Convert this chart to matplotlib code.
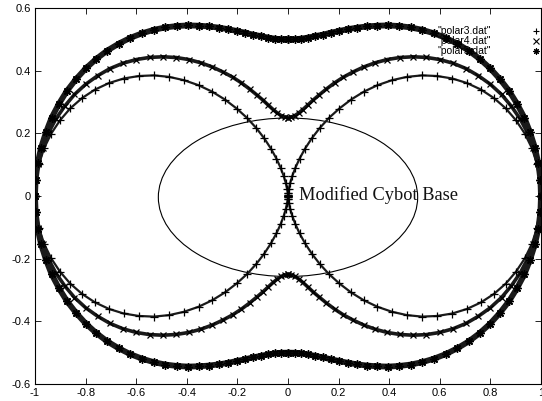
import numpy as np
import matplotlib
matplotlib.use("Agg")
import matplotlib.pyplot as plt
from matplotlib.patches import Ellipse
from matplotlib.ticker import FuncFormatter, MultipleLocator

# Polar radius every 3 degrees over the first quadrant;
# each trace is symmetric about both axes, so the other quadrants mirror it.
ANGLE_DEG = [0, 3, 6, 9, 12, 15, 18, 21, 24, 27, 30, 33, 36, 39, 42, 45,
             48, 51, 54, 57, 60, 63, 66, 69, 72, 75, 78, 81, 84, 87, 90]
R_POLAR3 = [1.00, 0.997, 0.989, 0.976, 0.957, 0.933, 0.905, 0.872, 0.835, 0.794,
            0.750, 0.703, 0.655, 0.604, 0.552, 0.500, 0.448, 0.396, 0.345, 0.297,
            0.250, 0.206, 0.165, 0.128, 0.095, 0.067, 0.043, 0.024, 0.011, 0.003, 0.0]
R_POLAR4 = [1.00, 0.998, 0.992, 0.982, 0.968, 0.950, 0.928, 0.904, 0.876, 0.845,
            0.813, 0.778, 0.741, 0.703, 0.664, 0.625, 0.586, 0.547, 0.509, 0.472,
            0.438, 0.405, 0.374, 0.346, 0.322, 0.300, 0.282, 0.268, 0.258, 0.252, 0.250]
R_POLAR5 = [1.00, 0.999, 0.995, 0.988, 0.978, 0.967, 0.952, 0.936, 0.917, 0.897,
            0.875, 0.852, 0.827, 0.802, 0.776, 0.750, 0.724, 0.698, 0.673, 0.648,
            0.625, 0.603, 0.583, 0.564, 0.548, 0.533, 0.522, 0.512, 0.505, 0.501, 0.500]
SERIES_LABELS = ['"polar3.dat"', '"polar4.dat"', '"polar5.dat"']

# robot base outline
BASE_CENTER = (0.0, -0.004)
BASE_WIDTH = 1.025
BASE_HEIGHT = 0.506
BASE_LABEL = "Modified Cybot Base"
BASE_LABEL_POS = (0.045, 0.002)

plt.rcParams["axes.unicode_minus"] = False
plt.rcParams["font.family"] = ["Liberation Sans", "DejaVu Sans"]


def full_curve(radii):
    th = np.radians(ANGLE_DEG)
    r = np.asarray(radii)
    t = np.concatenate([th, np.pi - th[::-1], np.pi + th, 2 * np.pi - th[::-1]])
    rr = np.concatenate([r, r[::-1], r, r[::-1]])
    return rr * np.cos(t), rr * np.sin(t)


def gnuplot_fmt(v, pos):
    return "%g" % (round(v, 6) + 0.0)


fig = plt.figure(figsize=(5.42, 4.01), dpi=100)
ax = fig.add_axes([35 / 542, 17 / 401, 506 / 542, 376 / 401])

styles = [
    dict(marker="+", ms=5.5, mew=0.9, lw=1.6),
    dict(marker="x", ms=4.5, mew=0.9, lw=2.6),
    dict(marker=(8, 2, 0), ms=6, mew=1.0, lw=4.2),
]
for radii, label, st in zip([R_POLAR3, R_POLAR4, R_POLAR5], SERIES_LABELS, styles):
    x, y = full_curve(radii)
    ax.plot(x, y, color="#1a1a1a", lw=st["lw"], solid_joinstyle="round")
    ax.plot(x, y, linestyle="none", marker=st["marker"], ms=st["ms"],
            mew=st["mew"], color="black")
    ax.plot([], [], linestyle="none", marker=st["marker"], ms=4.5, mew=0.8,
            color="black", label=label)

ax.add_patch(Ellipse(BASE_CENTER, BASE_WIDTH, BASE_HEIGHT, fill=False,
                     edgecolor="black", lw=0.8))
ax.text(*BASE_LABEL_POS, BASE_LABEL, ha="left", va="center", fontsize=13.2,
        family=["Liberation Serif", "DejaVu Serif"], color="#111111")

ax.set_xlim(-1, 1)
ax.set_ylim(-0.6, 0.6)
ax.xaxis.set_major_locator(MultipleLocator(0.2))
ax.yaxis.set_major_locator(MultipleLocator(0.2))
ax.xaxis.set_major_formatter(FuncFormatter(gnuplot_fmt))
ax.yaxis.set_major_formatter(FuncFormatter(gnuplot_fmt))
ax.tick_params(direction="in", top=True, right=True, length=4, width=0.6,
               labelsize=8, pad=3, colors="black")
for sp in ax.spines.values():
    sp.set_linewidth(0.8)

ax.legend(loc="upper right", bbox_to_anchor=(1.0, 0.957), frameon=False,
          markerfirst=False, fontsize=7.5, handlelength=0.6, handletextpad=4.0,
          labelspacing=0.0, borderaxespad=0.1, borderpad=0.1, numpoints=1)

fig.savefig("out.png", dpi=100)
